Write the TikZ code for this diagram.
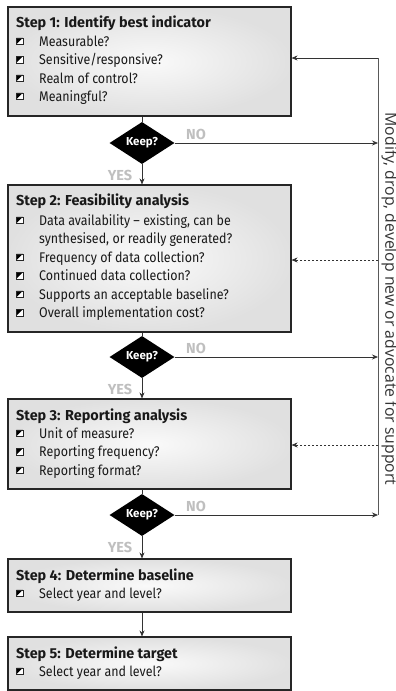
\documentclass[tikz,border=0pt]{standalone}
\usepackage{fontspec}
\setmainfont{Fira Sans}[FakeStretch=0.89]
\newfontfamily\tfont{Fira Sans}
\newfontfamily\vfont{Open Sans}
\usetikzlibrary{arrows.meta,shapes.geometric}
\newcommand\itm[3]{%
  \node[bulletbox] (#1b) at (19.5,#2-5) {};
  \node[itemtext] (#1) at (39,#2) {#3};}
\begin{document}
\begin{tikzpicture}[x=1pt,y=-1pt,
  stepbox/.style={draw=black!85, line width=1.1pt, rectangle, inner sep=0,
    shading=radial, inner color=gray!4, outer color=gray!24},
  bulletbox/.style={draw=black!85, line width=0.5pt, minimum size=6.5pt, inner sep=0, fill=white,
    path picture={\fill[black] (path picture bounding box.north west) -- (path picture bounding box.north east) -- (path picture bounding box.south west) -- cycle;}},
  itemtext/.style={anchor=base west, inner sep=0, font=\fontsize{14}{16}\selectfont, text=black!90},
  titletext/.style={anchor=base west, inner sep=0, font=\tfont\fontsize{14.4}{16}\selectfont\bfseries, text=black!90},
  keep/.style={diamond, fill=black, draw=none, minimum width=65pt, minimum height=42pt, aspect=1.55, inner sep=0,
    text=white, font=\tfont\fontsize{11.5}{12}\selectfont\bfseries},
  yn/.style={text=gray!50, font=\tfont\fontsize{14.5}{16}\selectfont\bfseries, inner sep=0},
  conn/.style={draw=black!80, line width=0.7pt},
  arr/.style={conn, -{Stealth[length=6pt,width=5pt]}},
  loopline/.style={draw=black!65, line width=0.9pt},
]
\useasboundingbox (0,0) rectangle (396,691);
% boxes
\node[stepbox, minimum width=283pt, minimum height=109pt] (b1) at (149.5,61.5) {};
\node[stepbox, minimum width=283pt, minimum height=147pt] (b2) at (149.5,258.5) {};
\node[stepbox, minimum width=283pt, minimum height=90pt] (b3) at (149.5,444) {};
\node[stepbox, minimum width=283pt, minimum height=53pt] (b4) at (149.5,585.5) {};
\node[stepbox, minimum width=283pt, minimum height=53pt] (b5) at (149.5,663.5) {};
% box 1
\node[titletext] (t1) at (16,27) {Step 1: Identify best indicator};
\itm{i11}{46}{Measurable?}
\itm{i12}{64.5}{Sensitive/responsive?}
\itm{i13}{83}{Realm of control?}
\itm{i14}{101}{Meaningful?}
% box 2
\node[titletext] (t2) at (16,205) {Step 2: Feasibility analysis};
\itm{i21}{225}{Data availability -- existing, can be}
\node[itemtext] (i21c) at (39,243.5) {synthesised, or readily generated?};
\itm{i22}{262}{Frequency of data collection?}
\itm{i23}{280.5}{Continued data collection?}
\itm{i24}{299}{Supports an acceptable baseline?}
\itm{i25}{317.5}{Overall implementation cost?}
% box 3
\node[titletext] (t3) at (16,420) {Step 3: Reporting analysis};
\itm{i31}{438}{Unit of measure?}
\itm{i32}{456.5}{Reporting frequency?}
\itm{i33}{475}{Reporting format?}
% box 4
\node[titletext] (t4) at (16,580) {Step 4: Determine baseline};
\itm{i41}{598}{Select year and level?}
% box 5
\node[titletext] (t5) at (16,658) {Step 5: Determine target};
\itm{i51}{676}{Select year and level?}
% diamonds
\node[keep] (d1) at (142,143) {Keep?};
\node[keep] (d2) at (142,357) {Keep?};
\node[keep] (d3) at (142,515) {Keep?};
% labels
\node[yn] (n1) at (196,134) {NO};
\node[yn] (n2) at (196,348) {NO};
\node[yn] (n3) at (196,506) {NO};
\node[yn] (y1) at (120,175) {YES};
\node[yn] (y2) at (120,389) {YES};
\node[yn] (y3) at (120,547) {YES};
% right loop
\coordinate (r1) at (378,58);
\coordinate (r2) at (378,143);
\coordinate (r3) at (378,260);
\coordinate (r4) at (378,357);
\coordinate (r5) at (378,445);
\coordinate (r6) at (378,515);
\path[loopline] (r1) -- (r6);
\path[arr] (r1) -- (b1.east |- r1);
\path[arr, dashed, dash pattern=on 2pt off 2pt] (r3) -- (b2.east |- r3);
\path[arr, dashed, dash pattern=on 2pt off 2pt] (r5) -- (b3.east |- r5);
\path[arr] (d1.east) -- (r2);
\path[arr] (d2.east) -- (r4);
\path[arr] (d3.east) -- (r6);
% main flow
\path[conn] (b1.south -| d1.north) -- (d1.north);
\path[arr] (d1.south) -- (b2.north -| d1.south);
\path[conn] (b2.south -| d2.north) -- (d2.north);
\path[arr] (d2.south) -- (b3.north -| d2.south);
\path[conn] (b3.south -| d3.north) -- (d3.north);
\path[arr] (d3.south) -- (b4.north -| d3.south);
\path[arr] (b4.south -| d3.south) -- (b5.north -| d3.south);
% vertical text
\node[rotate=-90, font=\vfont\fontsize{15.8}{17}\selectfont, text=black!80, inner sep=0] (vt) at (389.5,299) {Modify, drop, develop new or advocate for support};
\end{tikzpicture}
\end{document}
